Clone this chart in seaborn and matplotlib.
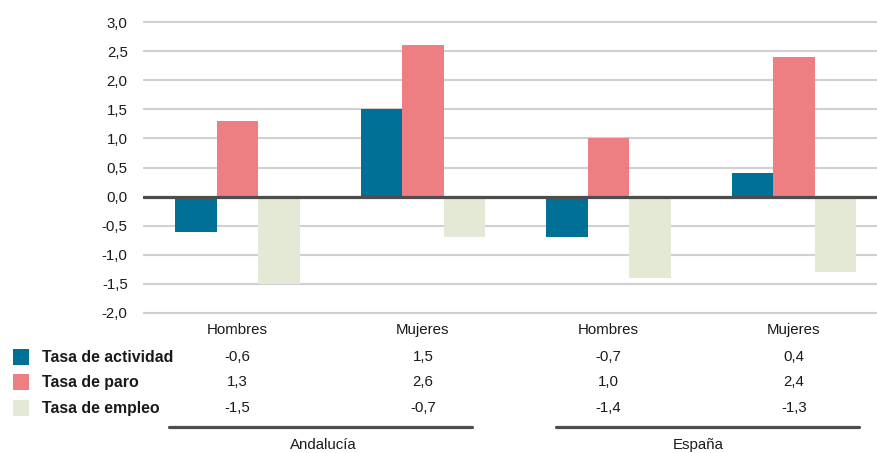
import matplotlib
matplotlib.use("Agg")
import matplotlib.pyplot as plt
import matplotlib.transforms as mtransforms
from matplotlib.patches import Rectangle
from matplotlib.ticker import FixedLocator, FuncFormatter
import pandas as pd
import seaborn as sns

# --- data -------------------------------------------------------------
regions = ["Andalucía", "Andalucía", "España", "España"]
sexes = ["Hombres", "Mujeres", "Hombres", "Mujeres"]
series = ["Tasa de actividad", "Tasa de paro", "Tasa de empleo"]
tasa_actividad = [-0.6, 1.5, -0.7, 0.4]
tasa_paro = [1.3, 2.6, 1.0, 2.4]
tasa_empleo = [-1.5, -0.7, -1.4, -1.3]
y_ticks = [-2.0, -1.5, -1.0, -0.5, 0.0, 0.5, 1.0, 1.5, 2.0, 2.5, 3.0]

colors = ["#007096", "#ED7F83", "#E3E9D4"]
values_by_series = [tasa_actividad, tasa_paro, tasa_empleo]

keys = [f"{r}|{s}" for r, s in zip(regions, sexes)]
rows = []
for name, vals in zip(series, values_by_series):
    for k, v in zip(keys, vals):
        rows.append({"grupo": k, "serie": name, "valor": v})
df = pd.DataFrame(rows)

# --- figure -----------------------------------------------------------
sns.set_theme(style="white")
plt.rcParams["font.family"] = ["Liberation Sans", "DejaVu Sans"]
TXT = "#1a1a1a"
FS = 10.8

W, H = 878, 453
fig = plt.figure(figsize=(W / 100, H / 100), dpi=100)
ymin, ymax = -2.05, 3.05
px_per_unit = 58.2
ax_top_px = 22 - (ymax - 3.0) * px_per_unit
ax_bot_px = 313 + (-2.0 - ymin) * px_per_unit
ax = fig.add_axes([143 / W, 1 - ax_bot_px / H, (W - 143) / W, (ax_bot_px - ax_top_px) / H])

sns.barplot(data=df, x="grupo", y="valor", hue="serie", order=keys,
            hue_order=series, palette=colors, width=0.67, saturation=1,
            errorbar=None, legend=False, ax=ax, zorder=2)
for p in ax.patches:
    p.set_edgecolor("none")
    p.set_linewidth(0)

ax.set_ylim(ymin, ymax)
ax.set_xlim(-0.509, 3.453)
ax.yaxis.set_major_locator(FixedLocator(y_ticks))
ax.yaxis.set_major_formatter(FuncFormatter(lambda v, _: f"{v:.1f}".replace(".", ",")))
ax.grid(axis="y", color="#D0D0D0", linewidth=1.5, zorder=0)
ax.grid(axis="x", visible=False)
ax.set_axisbelow(True)
ax.axhline(0, color="#4D4D4D", linewidth=2.3, zorder=3)
for s in ax.spines.values():
    s.set_visible(False)
ax.tick_params(axis="y", length=0, pad=11, labelsize=FS, labelcolor=TXT)
ax.tick_params(axis="x", length=0, pad=5, labelsize=FS, labelcolor=TXT)
ax.set_xticks(range(len(keys)))
ax.set_xticklabels(sexes)
ax.set_xlabel("")
ax.set_ylabel("")

# --- data table below the chart ---------------------------------------
blend = mtransforms.blended_transform_factory(ax.transData, fig.transFigure)
row_y_px = [357, 382, 408]
for name, vals, col, ypx in zip(series, values_by_series, colors, row_y_px):
    yf = 1 - ypx / H
    fig.patches.append(Rectangle((13 / W, 1 - (ypx + 8) / H), 16 / W, 16 / H,
                                 transform=fig.transFigure, facecolor=col,
                                 edgecolor="none"))
    fig.text(42 / W, yf, name, ha="left", va="center", fontsize=11.4,
             fontweight="bold", color=TXT)
    for i, v in enumerate(vals):
        fig.text(i, yf, f"{v:.1f}".replace(".", ","), ha="center", va="center",
                 fontsize=FS, color=TXT, transform=blend)

# region brackets: (label, line start, line end, label centre) in pixels
for label, x0, x1, xc in [("Andalucía", 169, 472, 323), ("España", 556, 859, 698)]:
    yl = 1 - 427 / H
    fig.add_artist(plt.Line2D([x0 / W, x1 / W], [yl, yl], color="#4D4D4D",
                              linewidth=2.3, transform=fig.transFigure))
    fig.text(xc / W, 1 - 445 / H, label, ha="center", va="center",
             fontsize=FS, color=TXT)

fig.savefig("out.png", dpi=100)
